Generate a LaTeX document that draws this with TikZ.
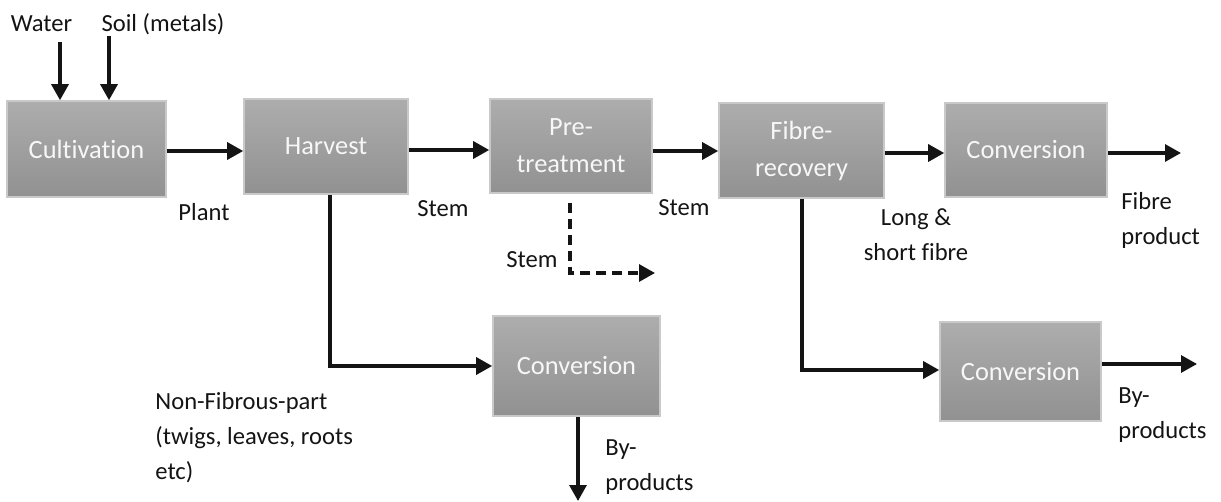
\documentclass[tikz,border=0pt]{standalone}
\usepackage{fontspec}
\setmainfont{Carlito}[Ligatures=NoCommon]
\usetikzlibrary{arrows.meta,calc}
\definecolor{boxtop}{HTML}{ADADAD}
\definecolor{boxbot}{HTML}{919191}
\definecolor{boxrim}{HTML}{C9C9C9}
\definecolor{ink}{HTML}{141414}
\tikzset{
  proc/.style={rectangle, draw=boxrim, line width=0.8pt, top color=boxtop, bottom color=boxbot,
    text=white!94!gray, align=center, inner sep=0pt,
    font=\fontsize{13.2}{18.5}\selectfont},
  lbl/.style={inner sep=0pt, text=ink, font=\fontsize{12.3}{17.5}\selectfont},
  arr/.style={draw=ink, line width=1.6pt, -{Triangle[length=8pt,width=8.5pt]}},
  dashflow/.style={draw=ink, line width=1.6pt, dash pattern=on 5pt off 3pt, -{Triangle[length=8pt,width=8.5pt]}}
}
\begin{document}
\begin{tikzpicture}[x=0.5pt,y=-0.5pt]
\useasboundingbox (0,0) rectangle (1221,502);

% process boxes
\node[proc, minimum width=79.5pt, minimum height=48pt]   (cult) at (86.5,149)  {Cultivation};
\node[proc, minimum width=82pt,   minimum height=47.5pt] (harv) at (326,146.5) {Harvest};
\node[proc, minimum width=81pt,   minimum height=47pt]   (pre)  at (571,146)   {Pre-\\treatment};
\node[proc, minimum width=82.5pt, minimum height=47.5pt] (fib)  at (801.5,150.5) {Fibre-\\recovery};
\node[proc, minimum width=81pt,   minimum height=47pt]   (conA) at (1026,150)  {Conversion};
\node[proc, minimum width=83.5pt, minimum height=50pt]   (conB) at (576.5,366) {Conversion};
\node[proc, minimum width=80.5pt, minimum height=49.5pt] (conC) at (1020.5,371.5) {Conversion};

% inputs
\node[lbl] (water) at (41.5,24) {Water};
\node[lbl] (soil)  at (163,24)  {Soil (metals)};
\coordinate (wtop) at (60,42);
\coordinate (stop) at (109,36);
\draw[arr] (wtop) -- (cult.north -| wtop);
\draw[arr] (stop) -- (cult.north -| stop);

% main line
\draw[arr] (cult.east |- 0,151) -- (harv.west |- 0,151);
\draw[arr] (harv.east |- 0,150) -- (pre.west |- 0,150);
\draw[arr] (pre.east |- 0,151)  -- (fib.west |- 0,151);
\draw[arr] (fib.east |- 0,153)  -- (conA.west |- 0,153);
\coordinate (outA) at (1181,153);
\draw[arr] (conA.east |- outA) -- (outA);

% side stream from pre-treatment
\coordinate (dtop) at (570,203);
\coordinate (dend) at (655,273);
\draw[dashflow] (dtop) -- (dtop |- dend) -- (dend);

% non-fibrous branch
\coordinate (hbend) at (330,366);
\draw[arr] (harv.south -| hbend) -- (hbend) -- (conB.west |- hbend);
\coordinate (outB) at (578,501);
\draw[arr] (conB.south -| outB) -- (outB);

% fibre-recovery by-products branch
\coordinate (fbend) at (802,370);
\draw[arr] (fib.south -| fbend) -- (fbend) -- (conC.west |- fbend);
\coordinate (outC) at (1197,364);
\draw[arr] (conC.east |- outC) -- (outC);

% flow labels
\node[lbl] (plant) at (204,212) {Plant};
\node[lbl] (stemA) at (443,209) {Stem};
\node[lbl] (stemB) at (684,208) {Stem};
\node[lbl] (stemC) at (532,260) {Stem};
\node[lbl, align=center] (fibres) at (916,235) {Long \&\\short fibre};
\node[lbl, align=left, anchor=west] (fprod) at (1121,220) {Fibre\\product};
\node[lbl, align=left, anchor=west] (nonf) at (155,438) {Non-Fibrous-part\\(twigs, leaves, roots\\etc)};
\node[lbl, align=left, anchor=west] (byB) at (605,467) {By-\\products};
\node[lbl, align=left, anchor=west] (byC) at (1118,415) {By-\\products};
\end{tikzpicture}
\end{document}
